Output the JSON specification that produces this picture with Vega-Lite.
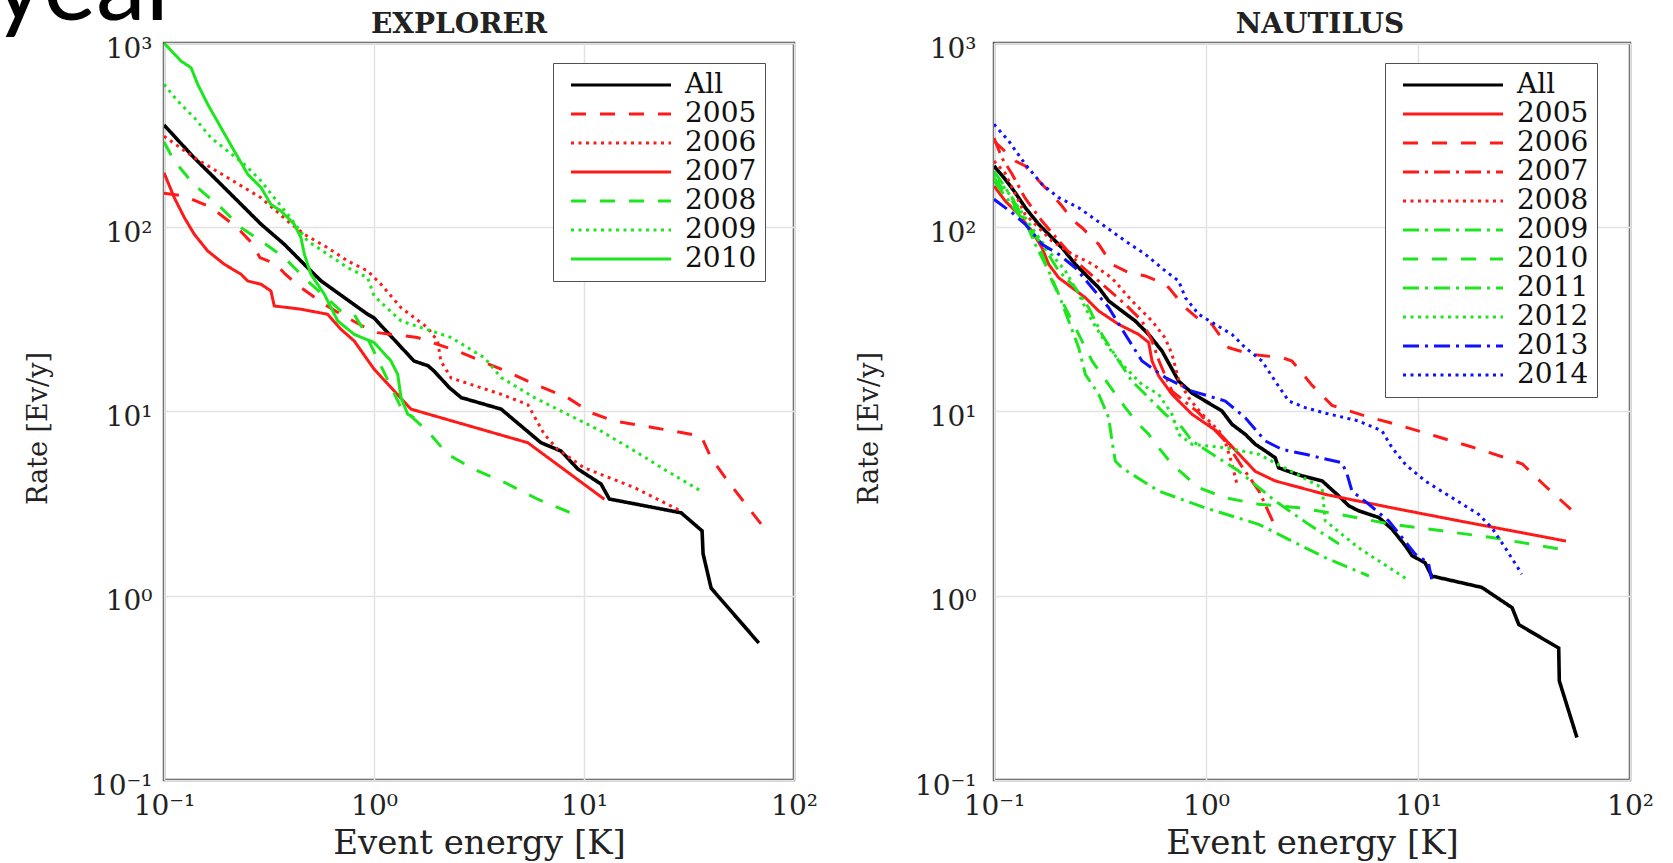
{
  "$schema": "https://vega.github.io/schema/vega-lite/v6.json",
  "background": "white",
  "padding": {"left": -7, "top": -61, "right": 10, "bottom": 4},
  "title": {"text": "year", "anchor": "start", "frame": "bounds", "font": "Lato", "fontSize": 100, "fontWeight": "normal", "color": "#000000", "baseline": "top", "offset": -31, "dx": -30},
  "config": {
    "font": "DejaVu Serif",
    "view": {"stroke": "#505050", "strokeWidth": 2.5},
    "title": {"font": "DejaVu Serif", "fontSize": 28, "fontWeight": "bold", "color": "#222222", "offset": -4},
    "axis": {
      "labelFont": "DejaVu Serif", "labelFontSize": 28, "labelColor": "#222222",
      "titleFont": "DejaVu Serif", "titleFontWeight": "normal", "titleColor": "#222222",
      "grid": true, "gridColor": "#e2e2e2", "gridWidth": 1.5,
      "domain": false, "ticks": false, "labelFlush": false, "labelOverlap": false, "labelBound": false
    },
    "legend": {
      "orient": "none", "legendY": 20,
      "symbolType": "M-4,0H4", "symbolSize": 625, "symbolStrokeWidth": 3,
      "labelFont": "DejaVu Serif", "labelFontSize": 28, "labelColor": "#111111", "labelLimit": 400,
      "strokeColor": "#505050", "fillColor": "#ffffff",
      "padding": 8, "rowPadding": 1, "symbolOffset": 46, "labelOffset": 50
    }
  },
  "datasets": {
    "explorer": [
      {"series": "All", "energy": 0.1, "rate": 359}, {"series": "All", "energy": 0.139, "rate": 238.5}, {"series": "All", "energy": 0.201, "rate": 157.3}, {"series": "All", "energy": 0.29, "rate": 103.8}, {"series": "All", "energy": 0.374, "rate": 80.8}, {"series": "All", "energy": 0.483, "rate": 60.3}, {"series": "All", "energy": 0.56, "rate": 51.1}, {"series": "All", "energy": 0.933, "rate": 33.7}, {"series": "All", "energy": 1.0, "rate": 32.2}, {"series": "All", "energy": 1.55, "rate": 18.8}, {"series": "All", "energy": 1.81, "rate": 17.7}, {"series": "All", "energy": 1.93, "rate": 16.6}, {"series": "All", "energy": 2.28, "rate": 13.5}, {"series": "All", "energy": 2.6, "rate": 11.9}, {"series": "All", "energy": 4.03, "rate": 10.3}, {"series": "All", "energy": 6.24, "rate": 6.77}, {"series": "All", "energy": 7.77, "rate": 6.1}, {"series": "All", "energy": 9.33, "rate": 4.88}, {"series": "All", "energy": 12.05, "rate": 4.04}, {"series": "All", "energy": 13.2, "rate": 3.35}, {"series": "All", "energy": 29, "rate": 2.82}, {"series": "All", "energy": 36.5, "rate": 2.25}, {"series": "All", "energy": 36.9, "rate": 1.69}, {"series": "All", "energy": 40.3, "rate": 1.1}, {"series": "All", "energy": 68, "rate": 0.554},

      {"series": "2005", "energy": 0.1, "rate": 153}, {"series": "2005", "energy": 0.1245, "rate": 148}, {"series": "2005", "energy": 0.1687, "rate": 127.7}, {"series": "2005", "energy": 0.223, "rate": 99.5}, {"series": "2005", "energy": 0.265, "rate": 81}, {"series": "2005", "energy": 0.286, "rate": 68.4}, {"series": "2005", "energy": 0.341, "rate": 63.2}, {"series": "2005", "energy": 0.377, "rate": 55.8}, {"series": "2005", "energy": 0.449, "rate": 47.0}, {"series": "2005", "energy": 0.578, "rate": 38.3}, {"series": "2005", "energy": 0.693, "rate": 33.8}, {"series": "2005", "energy": 0.933, "rate": 28.1}, {"series": "2005", "energy": 1.04, "rate": 26.8}, {"series": "2005", "energy": 1.61, "rate": 25.2}, {"series": "2005", "energy": 2.5, "rate": 21.3}, {"series": "2005", "energy": 3.23, "rate": 18.8}, {"series": "2005", "energy": 4.03, "rate": 17.0}, {"series": "2005", "energy": 5.78, "rate": 14.1}, {"series": "2005", "energy": 8.35, "rate": 11.9}, {"series": "2005", "energy": 10.8, "rate": 9.85}, {"series": "2005", "energy": 13.9, "rate": 8.88}, {"series": "2005", "energy": 21.5, "rate": 8.17}, {"series": "2005", "energy": 36.1, "rate": 7.36}, {"series": "2005", "energy": 40.3, "rate": 5.61}, {"series": "2005", "energy": 48.3, "rate": 4.2}, {"series": "2005", "energy": 69.7, "rate": 2.45},

      {"series": "2006", "energy": 0.1, "rate": 312}, {"series": "2006", "energy": 0.1394, "rate": 238.5}, {"series": "2006", "energy": 0.201, "rate": 185.8}, {"series": "2006", "energy": 0.2897, "rate": 144.5}, {"series": "2006", "energy": 0.388, "rate": 108}, {"series": "2006", "energy": 0.466, "rate": 91.6}, {"series": "2006", "energy": 0.602, "rate": 77.4}, {"series": "2006", "energy": 0.75, "rate": 65.6}, {"series": "2006", "energy": 0.933, "rate": 57.9}, {"series": "2006", "energy": 1.08, "rate": 49.0}, {"series": "2006", "energy": 1.345, "rate": 36.6}, {"series": "2006", "energy": 1.8, "rate": 28.5}, {"series": "2006", "energy": 2.01, "rate": 24.1}, {"series": "2006", "energy": 2.08, "rate": 18.8}, {"series": "2006", "energy": 2.33, "rate": 15.2}, {"series": "2006", "energy": 4.03, "rate": 12.4}, {"series": "2006", "energy": 5.4, "rate": 10.9}, {"series": "2006", "energy": 6.47, "rate": 7.52}, {"series": "2006", "energy": 7.5, "rate": 6.24}, {"series": "2006", "energy": 10.0, "rate": 4.95}, {"series": "2006", "energy": 17.4, "rate": 3.86}, {"series": "2006", "energy": 29, "rate": 2.88},

      {"series": "2007", "energy": 0.1, "rate": 197.7}, {"series": "2007", "energy": 0.112, "rate": 144.5}, {"series": "2007", "energy": 0.125, "rate": 112.8}, {"series": "2007", "energy": 0.1394, "rate": 91.6}, {"series": "2007", "energy": 0.1615, "rate": 74.3}, {"series": "2007", "energy": 0.1937, "rate": 63.0}, {"series": "2007", "energy": 0.233, "rate": 55.5}, {"series": "2007", "energy": 0.2505, "rate": 51.1}, {"series": "2007", "energy": 0.29, "rate": 49.0}, {"series": "2007", "energy": 0.323, "rate": 45.1}, {"series": "2007", "energy": 0.335, "rate": 37.4}, {"series": "2007", "energy": 0.449, "rate": 35.9}, {"series": "2007", "energy": 0.602, "rate": 33.7}, {"series": "2007", "energy": 0.697, "rate": 27.9}, {"series": "2007", "energy": 0.806, "rate": 24.1}, {"series": "2007", "energy": 1.0, "rate": 17.0}, {"series": "2007", "energy": 1.5, "rate": 10.3}, {"series": "2007", "energy": 5.4, "rate": 6.77}, {"series": "2007", "energy": 12.5, "rate": 3.34},

      {"series": "2008", "energy": 0.1, "rate": 290}, {"series": "2008", "energy": 0.112, "rate": 228.8}, {"series": "2008", "energy": 0.1345, "rate": 178.2}, {"series": "2008", "energy": 0.1447, "rate": 163.9}, {"series": "2008", "energy": 0.1868, "rate": 127.7}, {"series": "2008", "energy": 0.233, "rate": 99.5}, {"series": "2008", "energy": 0.29, "rate": 84.2}, {"series": "2008", "energy": 0.374, "rate": 68.4}, {"series": "2008", "energy": 0.483, "rate": 51.1}, {"series": "2008", "energy": 0.697, "rate": 35.1}, {"series": "2008", "energy": 0.803, "rate": 33.8}, {"series": "2008", "energy": 0.896, "rate": 27.4}, {"series": "2008", "energy": 1.345, "rate": 10.5}, {"series": "2008", "energy": 1.8, "rate": 7.83}, {"series": "2008", "energy": 2.24, "rate": 5.86}, {"series": "2008", "energy": 3.0, "rate": 4.86}, {"series": "2008", "energy": 4.17, "rate": 4.13}, {"series": "2008", "energy": 6.02, "rate": 3.34}, {"series": "2008", "energy": 8.99, "rate": 2.77},

      {"series": "2009", "energy": 0.1, "rate": 597}, {"series": "2009", "energy": 0.1162, "rate": 484}, {"series": "2009", "energy": 0.1394, "rate": 393}, {"series": "2009", "energy": 0.1674, "rate": 306}, {"series": "2009", "energy": 0.201, "rate": 259}, {"series": "2009", "energy": 0.2412, "rate": 219.7}, {"series": "2009", "energy": 0.29, "rate": 178.2}, {"series": "2009", "energy": 0.335, "rate": 144.5}, {"series": "2009", "energy": 0.388, "rate": 117.6}, {"series": "2009", "energy": 0.433, "rate": 99.5}, {"series": "2009", "energy": 0.483, "rate": 84.2}, {"series": "2009", "energy": 0.602, "rate": 71.3}, {"series": "2009", "energy": 0.75, "rate": 60.3}, {"series": "2009", "energy": 0.933, "rate": 53.2}, {"series": "2009", "energy": 1.0, "rate": 42.4}, {"series": "2009", "energy": 1.345, "rate": 31.0}, {"series": "2009", "energy": 2.33, "rate": 25.2}, {"series": "2009", "energy": 3.35, "rate": 19.6}, {"series": "2009", "energy": 4.03, "rate": 15.3}, {"series": "2009", "energy": 5.8, "rate": 11.9}, {"series": "2009", "energy": 8.35, "rate": 9.66}, {"series": "2009", "energy": 12.05, "rate": 7.83}, {"series": "2009", "energy": 17.4, "rate": 6.11}, {"series": "2009", "energy": 25.0, "rate": 4.73}, {"series": "2009", "energy": 36.1, "rate": 3.7},

      {"series": "2010", "energy": 0.1, "rate": 1000}, {"series": "2010", "energy": 0.1205, "rate": 798}, {"series": "2010", "energy": 0.1345, "rate": 735}, {"series": "2010", "energy": 0.1447, "rate": 597}, {"series": "2010", "energy": 0.1615, "rate": 465}, {"series": "2010", "energy": 0.1868, "rate": 347}, {"series": "2010", "energy": 0.2162, "rate": 259}, {"series": "2010", "energy": 0.2505, "rate": 194}, {"series": "2010", "energy": 0.29, "rate": 164}, {"series": "2010", "energy": 0.323, "rate": 133}, {"series": "2010", "energy": 0.3606, "rate": 122.5}, {"series": "2010", "energy": 0.4173, "rate": 103.8}, {"series": "2010", "energy": 0.449, "rate": 87.8}, {"series": "2010", "energy": 0.466, "rate": 71.3}, {"series": "2010", "energy": 0.501, "rate": 55.5}, {"series": "2010", "energy": 0.58, "rate": 43.3}, {"series": "2010", "energy": 0.672, "rate": 31.0}, {"series": "2010", "energy": 0.806, "rate": 26.2}, {"series": "2010", "energy": 1.0, "rate": 23.7}, {"series": "2010", "energy": 1.205, "rate": 18.8}, {"series": "2010", "energy": 1.297, "rate": 15.9}, {"series": "2010", "energy": 1.345, "rate": 11.9}, {"series": "2010", "energy": 1.447, "rate": 9.66}, {"series": "2010", "energy": 1.556, "rate": 9.26}
    ],
    "nautilus": [
      {"series": "All", "energy": 0.1, "rate": 215}, {"series": "All", "energy": 0.113, "rate": 182}, {"series": "All", "energy": 0.126, "rate": 154}, {"series": "All", "energy": 0.1405, "rate": 127.7}, {"series": "All", "energy": 0.1625, "rate": 103.8}, {"series": "All", "energy": 0.1877, "rate": 87.8}, {"series": "All", "energy": 0.2093, "rate": 77.4}, {"series": "All", "energy": 0.2417, "rate": 63.0}, {"series": "All", "energy": 0.2797, "rate": 53.2}, {"series": "All", "energy": 0.3118, "rate": 47.0}, {"series": "All", "energy": 0.3476, "rate": 39.8}, {"series": "All", "energy": 0.4017, "rate": 35.1}, {"series": "All", "energy": 0.4638, "rate": 31.0}, {"series": "All", "energy": 0.5366, "rate": 26.2}, {"series": "All", "energy": 0.62, "rate": 21.3}, {"series": "All", "energy": 0.7435, "rate": 14.6}, {"series": "All", "energy": 0.859, "rate": 12.6}, {"series": "All", "energy": 0.992, "rate": 11.4}, {"series": "All", "energy": 1.19, "rate": 10.06}, {"series": "All", "energy": 1.326, "rate": 8.52}, {"series": "All", "energy": 1.532, "rate": 7.52}, {"series": "All", "energy": 1.708, "rate": 6.64}, {"series": "All", "energy": 1.905, "rate": 6.11}, {"series": "All", "energy": 2.12, "rate": 5.61}, {"series": "All", "energy": 2.2, "rate": 4.95}, {"series": "All", "energy": 2.455, "rate": 4.73}, {"series": "All", "energy": 2.84, "rate": 4.47}, {"series": "All", "energy": 3.53, "rate": 4.2}, {"series": "All", "energy": 4.23, "rate": 3.48}, {"series": "All", "energy": 4.71, "rate": 3.08}, {"series": "All", "energy": 5.25, "rate": 2.89}, {"series": "All", "energy": 6.53, "rate": 2.66}, {"series": "All", "energy": 7.54, "rate": 2.3}, {"series": "All", "energy": 8.71, "rate": 1.87}, {"series": "All", "energy": 9.37, "rate": 1.65}, {"series": "All", "energy": 10.8, "rate": 1.51}, {"series": "All", "energy": 11.6, "rate": 1.28}, {"series": "All", "energy": 20.0, "rate": 1.11}, {"series": "All", "energy": 27.8, "rate": 0.861}, {"series": "All", "energy": 29.9, "rate": 0.697}, {"series": "All", "energy": 46.1, "rate": 0.52}, {"series": "All", "energy": 46.4, "rate": 0.345}, {"series": "All", "energy": 56.2, "rate": 0.17},

      {"series": "2005", "energy": 0.1, "rate": 167.5}, {"series": "2005", "energy": 0.113, "rate": 138.8}, {"series": "2005", "energy": 0.1307, "rate": 117.6}, {"series": "2005", "energy": 0.151, "rate": 95.4}, {"series": "2005", "energy": 0.1684, "rate": 77.4}, {"series": "2005", "energy": 0.1811, "rate": 63.0}, {"series": "2005", "energy": 0.2019, "rate": 53.2}, {"series": "2005", "energy": 0.2333, "rate": 47.0}, {"series": "2005", "energy": 0.2696, "rate": 41.5}, {"series": "2005", "energy": 0.3118, "rate": 35.1}, {"series": "2005", "energy": 0.3875, "rate": 29.7}, {"series": "2005", "energy": 0.4815, "rate": 26.2}, {"series": "2005", "energy": 0.5366, "rate": 23.7}, {"series": "2005", "energy": 0.5564, "rate": 18.8}, {"series": "2005", "energy": 0.598, "rate": 15.6}, {"series": "2005", "energy": 0.691, "rate": 12.4}, {"series": "2005", "energy": 0.859, "rate": 9.66}, {"series": "2005", "energy": 1.148, "rate": 7.69}, {"series": "2005", "energy": 1.708, "rate": 4.73}, {"series": "2005", "energy": 2.12, "rate": 4.2}, {"series": "2005", "energy": 3.65, "rate": 3.55}, {"series": "2005", "energy": 7.54, "rate": 3.0}, {"series": "2005", "energy": 15.6, "rate": 2.55}, {"series": "2005", "energy": 27.8, "rate": 2.25}, {"series": "2005", "energy": 49.9, "rate": 1.98},

      {"series": "2006", "energy": 0.1, "rate": 293.9}, {"series": "2006", "energy": 0.126, "rate": 228.8}, {"series": "2006", "energy": 0.1405, "rate": 215}, {"series": "2006", "energy": 0.1684, "rate": 171.1}, {"series": "2006", "energy": 0.1811, "rate": 157.3}, {"series": "2006", "energy": 0.2093, "rate": 130.4}, {"series": "2006", "energy": 0.2333, "rate": 110.4}, {"series": "2006", "energy": 0.2601, "rate": 99.4}, {"series": "2006", "energy": 0.3118, "rate": 80.8}, {"series": "2006", "energy": 0.3602, "rate": 62.9}, {"series": "2006", "energy": 0.4319, "rate": 56.7}, {"series": "2006", "energy": 0.5172, "rate": 54.4}, {"series": "2006", "energy": 0.62, "rate": 50.0}, {"series": "2006", "energy": 0.6671, "rate": 47.0}, {"series": "2006", "energy": 0.7989, "rate": 36.6}, {"series": "2006", "energy": 0.924, "rate": 31.7}, {"series": "2006", "energy": 1.067, "rate": 29.7}, {"series": "2006", "energy": 1.28, "rate": 22.2}, {"series": "2006", "energy": 1.648, "rate": 20.4}, {"series": "2006", "energy": 2.283, "rate": 19.6}, {"series": "2006", "energy": 2.545, "rate": 18.8}, {"series": "2006", "energy": 3.16, "rate": 13.9}, {"series": "2006", "energy": 3.93, "rate": 10.8}, {"series": "2006", "energy": 5.64, "rate": 9.45}, {"series": "2006", "energy": 8.41, "rate": 8.34}, {"series": "2006", "energy": 12.07, "rate": 7.36}, {"series": "2006", "energy": 17.35, "rate": 6.5}, {"series": "2006", "energy": 25.8, "rate": 5.61}, {"series": "2006", "energy": 31.1, "rate": 5.19}, {"series": "2006", "energy": 38.9, "rate": 4.04}, {"series": "2006", "energy": 55.6, "rate": 2.78},

      {"series": "2007", "energy": 0.1, "rate": 305}, {"series": "2007", "energy": 0.109, "rate": 237.6}, {"series": "2007", "energy": 0.1216, "rate": 194.5}, {"series": "2007", "energy": 0.14, "rate": 144.1}, {"series": "2007", "energy": 0.1684, "rate": 108.1}, {"series": "2007", "energy": 0.2026, "rate": 84.2}, {"series": "2007", "energy": 0.2517, "rate": 63.2}, {"series": "2007", "energy": 0.3231, "rate": 49.2}, {"series": "2007", "energy": 0.4149, "rate": 38.3}, {"series": "2007", "energy": 0.4991, "rate": 31.0}, {"series": "2007", "energy": 0.5564, "rate": 24.1}, {"series": "2007", "energy": 0.6004, "rate": 18.8}, {"series": "2007", "energy": 0.691, "rate": 12.9}, {"series": "2007", "energy": 0.927, "rate": 9.8}, {"series": "2007", "energy": 1.229, "rate": 6.92}, {"series": "2007", "energy": 1.528, "rate": 4.75}, {"series": "2007", "energy": 1.778, "rate": 3.7}, {"series": "2007", "energy": 2.093, "rate": 2.45},

      {"series": "2008", "energy": 0.1, "rate": 228.8}, {"series": "2008", "energy": 0.1127, "rate": 197}, {"series": "2008", "energy": 0.14, "rate": 118}, {"series": "2008", "energy": 0.1877, "rate": 84.2}, {"series": "2008", "energy": 0.2333, "rate": 71.6}, {"series": "2008", "energy": 0.29, "rate": 63.2}, {"series": "2008", "energy": 0.3602, "rate": 53.0}, {"series": "2008", "energy": 0.4476, "rate": 39.8}, {"series": "2008", "energy": 0.5564, "rate": 31.0}, {"series": "2008", "energy": 0.6407, "rate": 25.1}, {"series": "2008", "energy": 0.691, "rate": 20.5}, {"series": "2008", "energy": 0.746, "rate": 14.6}, {"series": "2008", "energy": 0.8313, "rate": 11.8}, {"series": "2008", "energy": 0.957, "rate": 9.69}, {"series": "2008", "energy": 1.152, "rate": 7.84}, {"series": "2008", "energy": 1.229, "rate": 6.92}, {"series": "2008", "energy": 1.326, "rate": 5.19}, {"series": "2008", "energy": 1.4, "rate": 4.04},

      {"series": "2009", "energy": 0.1, "rate": 178.2}, {"series": "2009", "energy": 0.1307, "rate": 117.6}, {"series": "2009", "energy": 0.1684, "rate": 80.8}, {"series": "2009", "energy": 0.2019, "rate": 57.9}, {"series": "2009", "energy": 0.2417, "rate": 47.0}, {"series": "2009", "energy": 0.2797, "rate": 36.6}, {"series": "2009", "energy": 0.3231, "rate": 26.2}, {"series": "2009", "energy": 0.3875, "rate": 18.8}, {"series": "2009", "energy": 0.4476, "rate": 14.6}, {"series": "2009", "energy": 0.5366, "rate": 11.9}, {"series": "2009", "energy": 0.6427, "rate": 9.66}, {"series": "2009", "energy": 0.7705, "rate": 8.17}, {"series": "2009", "energy": 0.859, "rate": 6.92}, {"series": "2009", "energy": 1.426, "rate": 4.75}, {"series": "2009", "energy": 2.12, "rate": 3.27}, {"series": "2009", "energy": 3.05, "rate": 2.44}, {"series": "2009", "energy": 4.24, "rate": 1.91},

      {"series": "2010", "energy": 0.1, "rate": 185.8}, {"series": "2010", "energy": 0.1216, "rate": 138.8}, {"series": "2010", "energy": 0.1458, "rate": 99.4}, {"series": "2010", "energy": 0.1684, "rate": 71.3}, {"series": "2010", "energy": 0.1877, "rate": 51.1}, {"series": "2010", "energy": 0.217, "rate": 36.6}, {"series": "2010", "energy": 0.2509, "rate": 26.2}, {"series": "2010", "energy": 0.29, "rate": 18.8}, {"series": "2010", "energy": 0.3476, "rate": 14.0}, {"series": "2010", "energy": 0.4162, "rate": 10.5}, {"series": "2010", "energy": 0.4815, "rate": 8.52}, {"series": "2010", "energy": 0.5366, "rate": 7.52}, {"series": "2010", "energy": 0.598, "rate": 6.36}, {"series": "2010", "energy": 0.691, "rate": 5.17}, {"series": "2010", "energy": 0.924, "rate": 3.86}, {"series": "2010", "energy": 1.233, "rate": 3.4}, {"series": "2010", "energy": 1.773, "rate": 3.14}, {"series": "2010", "energy": 2.74, "rate": 3.0}, {"series": "2010", "energy": 4.23, "rate": 2.77}, {"series": "2010", "energy": 7.54, "rate": 2.44}, {"series": "2010", "energy": 12.98, "rate": 2.25}, {"series": "2010", "energy": 22.3, "rate": 2.07}, {"series": "2010", "energy": 47.1, "rate": 1.79},

      {"series": "2011", "energy": 0.1, "rate": 202}, {"series": "2011", "energy": 0.1216, "rate": 144.7}, {"series": "2011", "energy": 0.1405, "rate": 108.1}, {"series": "2011", "energy": 0.1565, "rate": 80.8}, {"series": "2011", "energy": 0.1811, "rate": 57.9}, {"series": "2011", "energy": 0.2019, "rate": 43.3}, {"series": "2011", "energy": 0.2251, "rate": 31.0}, {"series": "2011", "energy": 0.2509, "rate": 22.2}, {"series": "2011", "energy": 0.2696, "rate": 15.9}, {"series": "2011", "energy": 0.3118, "rate": 12.4}, {"series": "2011", "energy": 0.3476, "rate": 9.25}, {"series": "2011", "energy": 0.3602, "rate": 6.92}, {"series": "2011", "energy": 0.3734, "rate": 5.39}, {"series": "2011", "energy": 0.4017, "rate": 4.94}, {"series": "2011", "energy": 0.598, "rate": 3.7}, {"series": "2011", "energy": 0.992, "rate": 3.0}, {"series": "2011", "energy": 1.773, "rate": 2.44}, {"series": "2011", "energy": 2.545, "rate": 1.98}, {"series": "2011", "energy": 3.65, "rate": 1.61}, {"series": "2011", "energy": 5.87, "rate": 1.28},

      {"series": "2012", "energy": 0.1, "rate": 193.9}, {"series": "2012", "energy": 0.1216, "rate": 144.7}, {"series": "2012", "energy": 0.151, "rate": 99.4}, {"series": "2012", "energy": 0.1811, "rate": 74.3}, {"series": "2012", "energy": 0.217, "rate": 57.9}, {"series": "2012", "energy": 0.2509, "rate": 43.3}, {"series": "2012", "energy": 0.29, "rate": 31.0}, {"series": "2012", "energy": 0.3476, "rate": 22.2}, {"series": "2012", "energy": 0.4162, "rate": 17.3}, {"series": "2012", "energy": 0.4991, "rate": 14.0}, {"series": "2012", "energy": 0.598, "rate": 12.4}, {"series": "2012", "energy": 0.691, "rate": 9.66}, {"series": "2012", "energy": 0.7435, "rate": 7.52}, {"series": "2012", "energy": 0.859, "rate": 6.64}, {"series": "2012", "energy": 1.233, "rate": 6.36}, {"series": "2012", "energy": 1.773, "rate": 5.86}, {"series": "2012", "energy": 3.53, "rate": 3.86}, {"series": "2012", "energy": 3.65, "rate": 2.55}, {"series": "2012", "energy": 5.25, "rate": 1.82}, {"series": "2012", "energy": 8.87, "rate": 1.23},

      {"series": "2013", "energy": 0.1, "rate": 141.8}, {"series": "2013", "energy": 0.1216, "rate": 120}, {"series": "2013", "energy": 0.1405, "rate": 103.8}, {"series": "2013", "energy": 0.1684, "rate": 80.8}, {"series": "2013", "energy": 0.2019, "rate": 71.3}, {"series": "2013", "energy": 0.2417, "rate": 60.3}, {"series": "2013", "energy": 0.29, "rate": 47.0}, {"series": "2013", "energy": 0.3476, "rate": 36.6}, {"series": "2013", "energy": 0.4162, "rate": 26.2}, {"series": "2013", "energy": 0.4991, "rate": 18.8}, {"series": "2013", "energy": 0.6427, "rate": 15.3}, {"series": "2013", "energy": 0.859, "rate": 12.9}, {"series": "2013", "energy": 1.233, "rate": 11.4}, {"series": "2013", "energy": 1.532, "rate": 9.25}, {"series": "2013", "energy": 1.905, "rate": 6.92}, {"series": "2013", "energy": 2.283, "rate": 6.23}, {"series": "2013", "energy": 2.94, "rate": 5.86}, {"series": "2013", "energy": 4.38, "rate": 5.27}, {"series": "2013", "energy": 4.63, "rate": 4.56}, {"series": "2013", "energy": 4.88, "rate": 3.7}, {"series": "2013", "energy": 5.85, "rate": 3.14}, {"series": "2013", "energy": 7.27, "rate": 2.55}, {"series": "2013", "energy": 8.41, "rate": 2.07}, {"series": "2013", "energy": 9.71, "rate": 1.68}, {"series": "2013", "energy": 11.2, "rate": 1.51}, {"series": "2013", "energy": 11.6, "rate": 1.23},

      {"series": "2014", "energy": 0.1, "rate": 362}, {"series": "2014", "energy": 0.1173, "rate": 293.9}, {"series": "2014", "energy": 0.1405, "rate": 219.6}, {"series": "2014", "energy": 0.1684, "rate": 171.1}, {"series": "2014", "energy": 0.2019, "rate": 144.7}, {"series": "2014", "energy": 0.2509, "rate": 127.7}, {"series": "2014", "energy": 0.3231, "rate": 103.8}, {"series": "2014", "energy": 0.4162, "rate": 84.2}, {"series": "2014", "energy": 0.5172, "rate": 71.3}, {"series": "2014", "energy": 0.6427, "rate": 57.9}, {"series": "2014", "energy": 0.7435, "rate": 51.1}, {"series": "2014", "energy": 0.7989, "rate": 41.5}, {"series": "2014", "energy": 0.924, "rate": 33.7}, {"series": "2014", "energy": 1.106, "rate": 29.7}, {"series": "2014", "energy": 1.326, "rate": 26.2}, {"series": "2014", "energy": 1.532, "rate": 22.2}, {"series": "2014", "energy": 1.837, "rate": 18.8}, {"series": "2014", "energy": 2.12, "rate": 14.6}, {"series": "2014", "energy": 2.455, "rate": 11.4}, {"series": "2014", "energy": 2.94, "rate": 10.5}, {"series": "2014", "energy": 3.65, "rate": 9.8}, {"series": "2014", "energy": 5.25, "rate": 8.88}, {"series": "2014", "energy": 6.77, "rate": 7.84}, {"series": "2014", "energy": 7.54, "rate": 6.36}, {"series": "2014", "energy": 8.71, "rate": 5.17}, {"series": "2014", "energy": 10.8, "rate": 4.2}, {"series": "2014", "energy": 14.5, "rate": 3.4}, {"series": "2014", "energy": 19.3, "rate": 2.77}, {"series": "2014", "energy": 22.3, "rate": 2.34}, {"series": "2014", "energy": 25.8, "rate": 1.82}, {"series": "2014", "energy": 30.9, "rate": 1.31}
    ]
  },
  "spacing": 35,
  "resolve": {"scale": {"color": "independent", "strokeDash": "independent", "x": "independent", "y": "independent"}, "legend": {"color": "independent", "strokeDash": "independent"}},
  "hconcat": [
    {
      "title": {"text": "EXPLORER", "dx": -20},
      "width": 630,
      "height": 737,
      "data": {"name": "explorer"},
      "mark": {"type": "line", "clip": true},
      "encoding": {
        "x": {"field": "energy", "type": "quantitative", "title": "Event energy [K]",
          "scale": {"type": "log", "domain": [0.1, 100], "nice": false},
          "axis": {"values": [0.1, 1, 10, 100], "labelPadding": 12, "titleFontSize": 34, "titlePadding": 6,
            "labelExpr": "datum.value < 0.5 ? '10⁻¹' : datum.value < 5 ? '10⁰' : datum.value < 50 ? '10¹' : '10²'"}},
        "y": {"field": "rate", "type": "quantitative", "title": "Rate [Ev/y]",
          "scale": {"type": "log", "domain": [0.1, 1000], "nice": false},
          "axis": {"values": [0.1, 1, 10, 100, 1000], "labelPadding": 12, "labelOffset": 6, "titleFontSize": 27, "titlePadding": 38, "titleY": 385,
            "labelExpr": "datum.value < 0.5 ? '10⁻¹' : datum.value < 5 ? '10⁰' : datum.value < 50 ? '10¹' : datum.value < 500 ? '10²' : '10³'"}},
        "strokeWidth": {"condition": {"test": "datum.series === 'All'", "value": 3.6}, "value": 3},
        "color": {"field": "series", "type": "nominal", "legend": {"title": null, "orient": "none", "legendX": 389, "legendY": 20},
          "scale": {"domain": ["All", "2005", "2006", "2007", "2008", "2009", "2010"],
            "range": ["#000000", "#ff1a1a", "#ff1a1a", "#ff1a1a", "#1ee61e", "#1ee61e", "#1ee61e"]}},
        "strokeDash": {"field": "series", "type": "nominal", "legend": {"title": null, "orient": "none", "legendX": 389, "legendY": 20},
          "scale": {"domain": ["All", "2005", "2006", "2007", "2008", "2009", "2010"],
            "range": [[1, 0], [15, 14], [3, 4.5], [1, 0], [15, 14], [3, 4.5], [1, 0]]}}
      }
    },
    {
      "title": {"text": "NAUTILUS", "dx": 8},
      "width": 636,
      "height": 737,
      "data": {"name": "nautilus"},
      "mark": {"type": "line", "clip": true},
      "encoding": {
        "x": {"field": "energy", "type": "quantitative", "title": "Event energy [K]",
          "scale": {"type": "log", "domain": [0.1, 100], "nice": false},
          "axis": {"values": [0.1, 1, 10, 100], "labelPadding": 12, "titleFontSize": 34, "titlePadding": 6,
            "labelExpr": "datum.value < 0.5 ? '10⁻¹' : datum.value < 5 ? '10⁰' : datum.value < 50 ? '10¹' : '10²'"}},
        "y": {"field": "rate", "type": "quantitative", "title": "Rate [Ev/y]",
          "scale": {"type": "log", "domain": [0.1, 1000], "nice": false},
          "axis": {"values": [0.1, 1, 10, 100, 1000], "labelPadding": 18, "labelOffset": 6, "titleFontSize": 27, "titlePadding": 31, "titleY": 385,
            "labelExpr": "datum.value < 0.5 ? '10⁻¹' : datum.value < 5 ? '10⁰' : datum.value < 50 ? '10¹' : datum.value < 500 ? '10²' : '10³'"}},
        "strokeWidth": {"condition": {"test": "datum.series === 'All'", "value": 3.6}, "value": 3},
        "color": {"field": "series", "type": "nominal", "legend": {"title": null, "orient": "none", "legendX": 391, "legendY": 20},
          "scale": {"domain": ["All", "2005", "2006", "2007", "2008", "2009", "2010", "2011", "2012", "2013", "2014"],
            "range": ["#000000", "#ff1a1a", "#ff1a1a", "#ff1a1a", "#ff1a1a", "#1ee61e", "#1ee61e", "#1ee61e", "#1ee61e", "#1010ff", "#1010ff"]}},
        "strokeDash": {"field": "series", "type": "nominal", "legend": {"title": null, "orient": "none", "legendX": 391, "legendY": 20},
          "scale": {"domain": ["All", "2005", "2006", "2007", "2008", "2009", "2010", "2011", "2012", "2013", "2014"],
            "range": [[1, 0], [1, 0], [15, 14], [16, 6, 3, 6], [3, 4.5], [16, 6, 3, 6], [15, 14], [16, 6, 3, 6], [3, 4.5], [16, 6, 3, 6], [3, 4.5]]}}
      }
    }
  ]
}
